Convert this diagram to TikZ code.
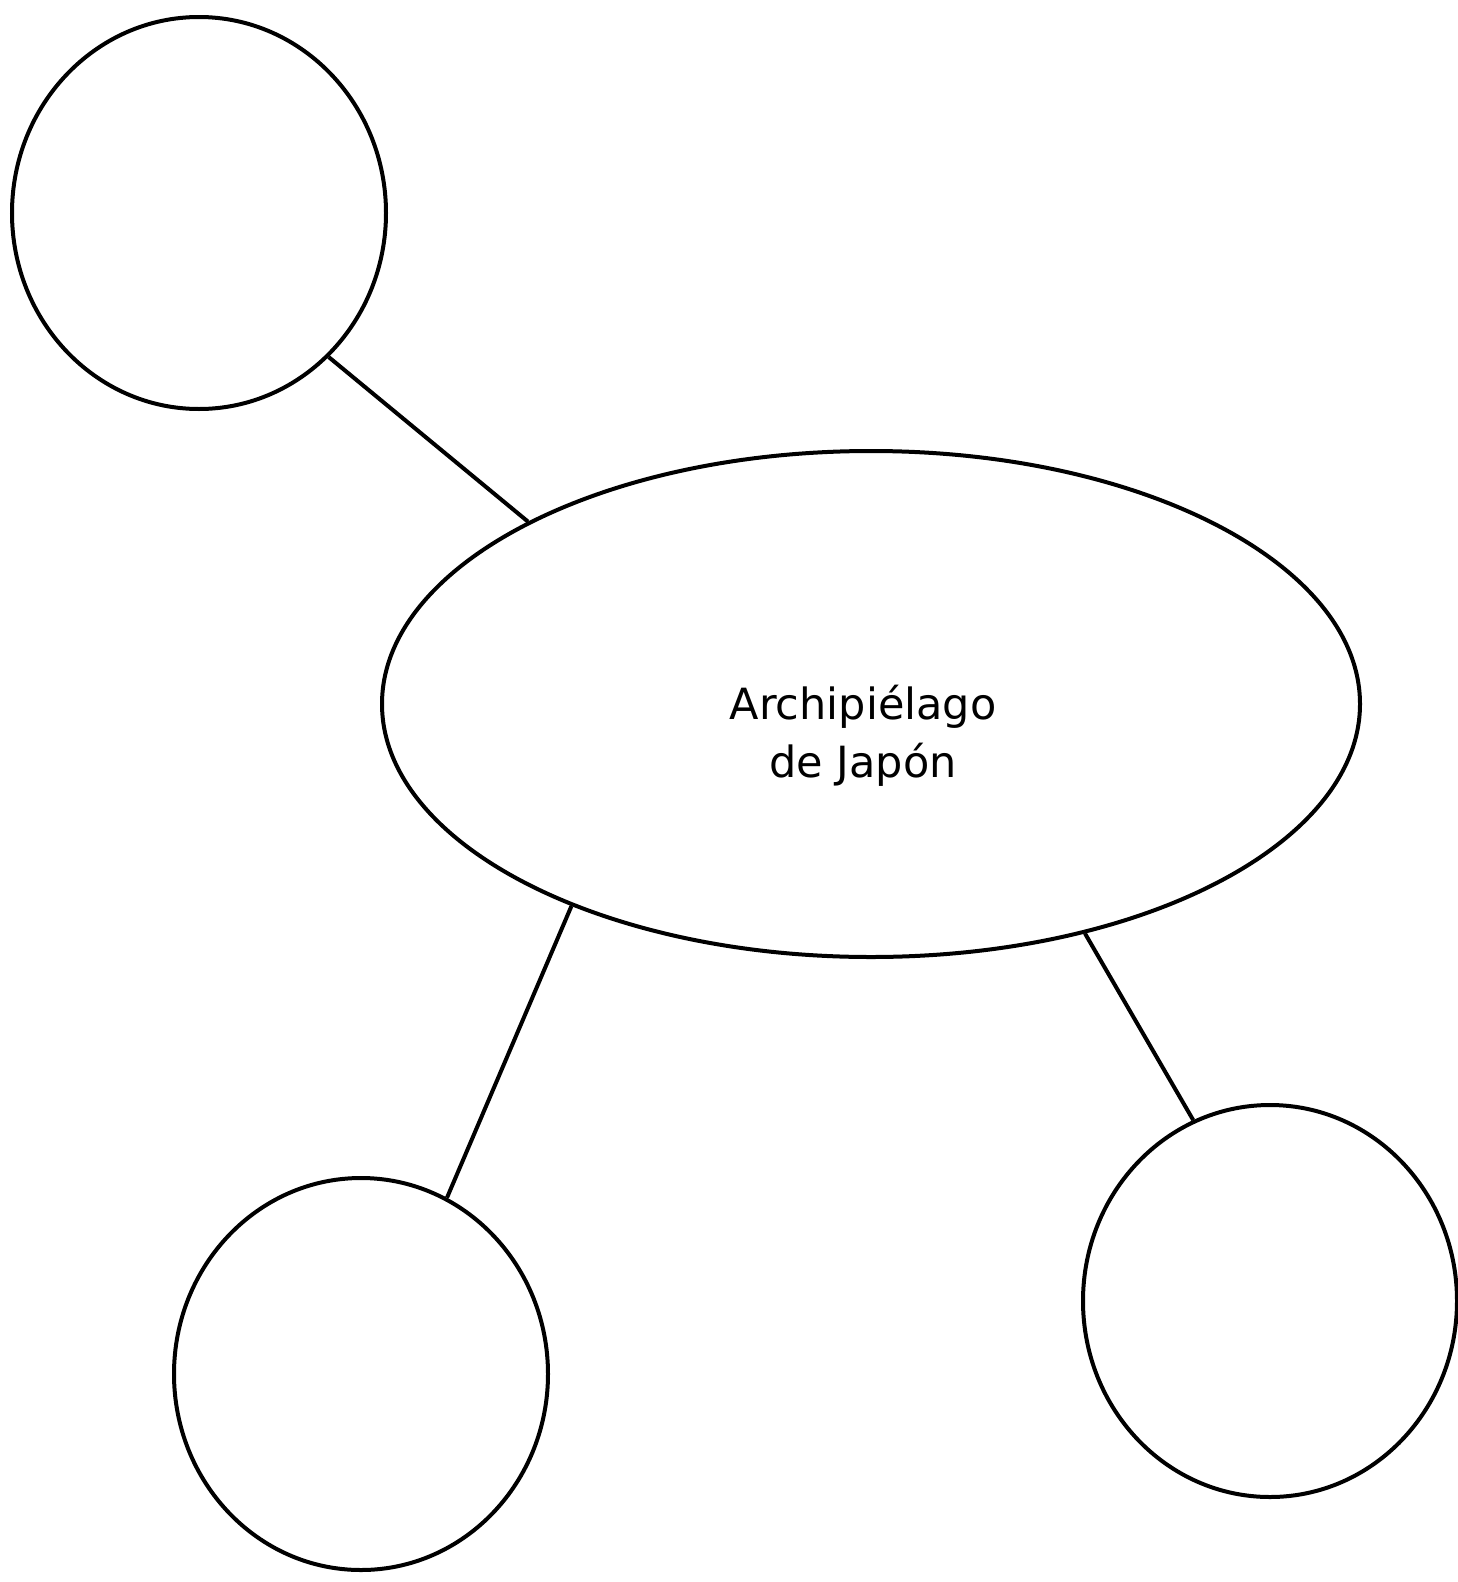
\documentclass[tikz,border=0pt]{standalone}
\usepackage{fontspec}
\setmainfont{DejaVu Sans}
\usetikzlibrary{shapes.geometric}
\begin{document}
\begin{tikzpicture}[x=1pt,y=-1pt,
  bub/.style={draw=black,line width=4pt,ellipse,minimum width=374pt,minimum height=392pt,inner sep=0pt},
  mainel/.style={draw=black,line width=4pt,ellipse,minimum width=978pt,minimum height=506pt,inner sep=0pt},
  lbl/.style={align=center,inner sep=0pt,font=\fontsize{43}{58}\selectfont},
  link/.style={draw=black,line width=4pt}]
\useasboundingbox (0,0) rectangle (1458,1582);
\node[mainel] (el) at (871,704) {};
\node[lbl] (txt) at (863,736) {Archipiélago\\de Japón};
\node[bub] (tl) at (199,213) {};
\node[bub] (bl) at (361,1374) {};
\node[bub] (br) at (1270,1301) {};
\draw[link] (tl.-48) -- (el.152);
\draw[link] (bl.64) -- (el.214);
\draw[link] (br.113) -- (el.-47);
\end{tikzpicture}
\end{document}
